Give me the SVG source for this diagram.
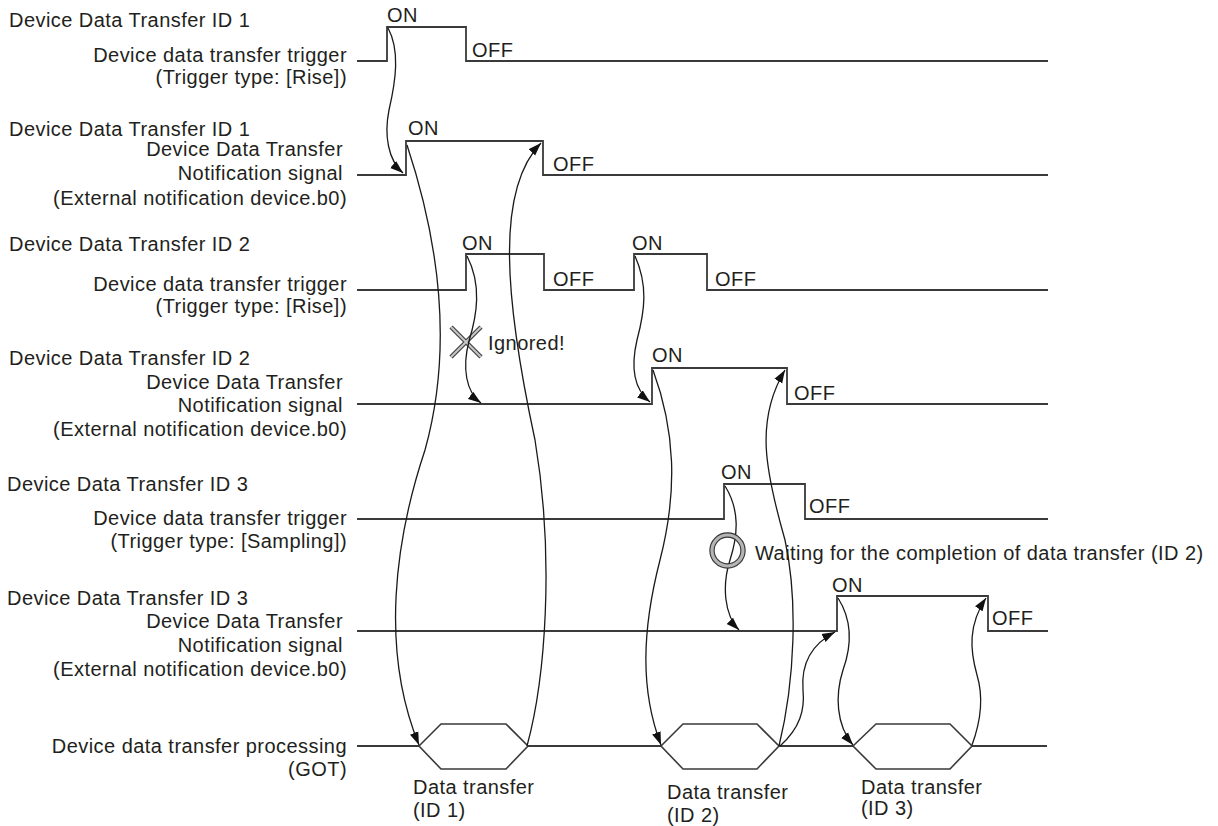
<svg xmlns="http://www.w3.org/2000/svg" width="1218" height="826" viewBox="0 0 1218 826">
<style>
text{font-family:"Liberation Sans",Arial,sans-serif;font-size:20px;fill:#231f20;letter-spacing:0.45px}
.e{text-anchor:end}
.sig{fill:none;stroke:#3a3a3a;stroke-width:1.8}
.hex{fill:#fff;stroke:#3a3a3a;stroke-width:1.6}
.con{fill:none;stroke:#1a1a1a;stroke-width:1.3;marker-end:url(#ah)}
</style>
<defs>
<marker id="ah" markerUnits="userSpaceOnUse" markerWidth="14" markerHeight="10" refX="13" refY="5" orient="auto">
<path d="M0,0.5 L13,5 L0,9.5 z" fill="#111"/>
</marker>
</defs>
<rect width="1218" height="826" fill="#fff"/>

<g id="sig-trigger-1">
<text x="9" y="27">Device Data Transfer ID 1</text>
<text class="e" x="347" y="62">Device data transfer trigger</text>
<text class="e" x="347" y="84">(Trigger type: [Rise])</text>
<path class="sig" d="M357,61 H387 V27 H466 V61 H1048"/>
<text x="387" y="22">ON</text>
<text x="472" y="57">OFF</text>
</g>

<g id="sig-notify-1">
<text x="9" y="136">Device Data Transfer ID 1</text>
<text class="e" x="343" y="156">Device Data Transfer</text>
<text class="e" x="343" y="180">Notification signal</text>
<text class="e" x="347" y="205">(External notification device.b0)</text>
<path class="sig" d="M357,175 H406 V141 H543 V175 H1048"/>
<text x="408" y="135">ON</text>
<text x="553" y="171">OFF</text>
</g>

<g id="sig-trigger-2">
<text x="9" y="251">Device Data Transfer ID 2</text>
<text class="e" x="347" y="291">Device data transfer trigger</text>
<text class="e" x="347" y="313">(Trigger type: [Rise])</text>
<path class="sig" d="M357,290 H466 V254 H544 V290 H634 V254 H707 V290 H1048"/>
<text x="462" y="250">ON</text>
<text x="553" y="286">OFF</text>
<text x="632" y="250">ON</text>
<text x="715" y="286">OFF</text>
</g>

<g id="sig-notify-2">
<text x="9" y="365">Device Data Transfer ID 2</text>
<text class="e" x="343" y="389">Device Data Transfer</text>
<text class="e" x="343" y="412">Notification signal</text>
<text class="e" x="347" y="436">(External notification device.b0)</text>
<path class="sig" d="M357,404 H652 V368 H787 V404 H1048"/>
<text x="652" y="362">ON</text>
<text x="794" y="400">OFF</text>
</g>

<g id="sig-trigger-3">
<text x="7" y="491">Device Data Transfer ID 3</text>
<text class="e" x="347" y="525">Device data transfer trigger</text>
<text class="e" x="347" y="548">(Trigger type: [Sampling])</text>
<path class="sig" d="M357,519 H724 V484 H805 V519 H1048"/>
<text x="721" y="479">ON</text>
<text x="809" y="513">OFF</text>
</g>

<g id="sig-notify-3">
<text x="7" y="605">Device Data Transfer ID 3</text>
<text class="e" x="343" y="628">Device Data Transfer</text>
<text class="e" x="343" y="652">Notification signal</text>
<text class="e" x="347" y="676">(External notification device.b0)</text>
<path class="sig" d="M357,631 H837 V596 H988 V631 H1048"/>
<text x="832" y="592">ON</text>
<text x="992" y="625">OFF</text>
</g>

<g id="processing">
<text class="e" x="347" y="753">Device data transfer processing</text>
<text class="e" x="347" y="776">(GOT)</text>
<path class="sig" d="M357,746 H419 M528,746 H661 M779,746 H853 M972,746 H1047"/>
<polygon class="hex" points="419,746 441,724 506,724 528,746 506,769 441,769"/>
<polygon class="hex" points="661,746 683,724 757,724 779,746 757,769 683,769"/>
<polygon class="hex" points="853,746 876,724 950,724 972,746 950,769 876,769"/>
<text x="413" y="794">Data transfer</text>
<text x="413" y="817">(ID 1)</text>
<text x="667" y="799">Data transfer</text>
<text x="667" y="822">(ID 2)</text>
<text x="861" y="794">Data transfer</text>
<text x="861" y="815">(ID 3)</text>
</g>

<g id="ignored-mark">
<path d="M451,327 L481,357 M481,327 L451,357" stroke="#444" stroke-width="4.5" fill="none"/>
<path d="M451,327 L481,357 M481,327 L451,357" stroke="#c8c8c8" stroke-width="2" fill="none"/>
<text x="488" y="350">Ignored!</text>
</g>

<g id="connectors">
<path class="con" d="M388,28 C400,50 396,80 389,110 C384,135 388,160 403,173"/>
<path class="con" d="M407,145 C445,260 450,360 425,450 C395,540 380,650 419,745"/>
<path class="con" d="M527,746 C545,680 555,560 535,440 C505,300 495,190 541,143"/>
<path class="con" d="M467,256 C482,285 477,315 469,341 C462,368 466,392 481,403"/>
<path class="con" d="M635,256 C648,285 645,310 637,340 C630,370 635,390 650,402"/>
<path class="con" d="M653,370 C675,430 678,490 660,560 C642,630 640,690 661,745"/>
<path class="con" d="M779,746 C795,680 798,600 785,540 C765,470 755,420 785,370"/>
<path class="con" d="M725,486 C740,510 738,535 730,560 C722,585 724,615 739,630"/>
<path class="con" d="M780,746 C800,728 805,710 803,690 C801,665 810,645 835,632"/>
<path class="con" d="M838,598 C852,620 852,645 843,670 C835,695 836,725 853,745"/>
<path class="con" d="M972,745 C982,718 983,695 977,675 C970,650 968,625 986,598"/>
</g>

<g id="waiting-mark">
<circle cx="727.5" cy="550.5" r="15.5" fill="none" stroke="#333" stroke-width="5.4"/>
<circle cx="727.5" cy="550.5" r="15.5" fill="none" stroke="#b4b4b4" stroke-width="3.2"/>
<text x="755" y="560">Waiting for the completion of data transfer (ID 2)</text>
</g>
</svg>
